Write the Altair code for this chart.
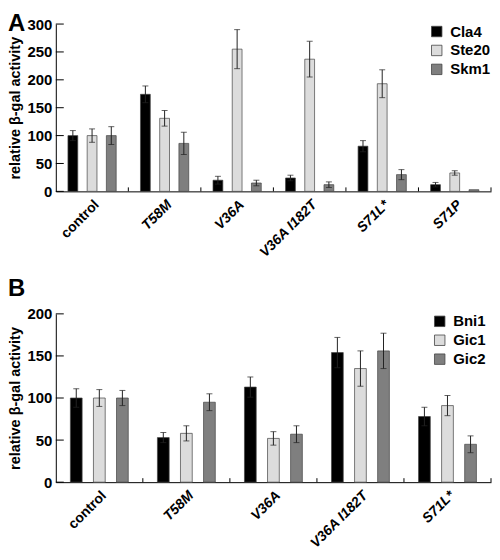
import altair as alt
import pandas as pd

FONT = "Liberation Sans"

# ---- Panel A data ----
groups_a = ["control", "T58M", "V36A", "V36A I182T", "S71L*", "S71P"]
series_a = ["Cla4", "Ste20", "Skm1"]
cla4 = [100, 174, 20, 24, 81, 12]
cla4_err = [9, 15, 7, 5, 10, 4]
ste20 = [100, 131, 255, 237, 193, 33]
ste20_err = [12, 14, 35, 32, 25, 4]
skm1 = [100, 86, 15, 12, 30, 3]
skm1_err = [16, 20, 5, 5, 9, 0]
ticks_a = [0, 50, 100, 150, 200, 250, 300]

# ---- Panel B data ----
groups_b = ["control", "T58M", "V36A", "V36A I182T", "S71L*"]
series_b = ["Bni1", "Gic1", "Gic2"]
bni1 = [100, 53, 113, 154, 78]
bni1_err = [11, 6, 12, 18, 11]
gic1 = [100, 58, 52, 135, 91]
gic1_err = [10, 9, 8, 21, 12]
gic2 = [100, 95, 57, 156, 45]
gic2_err = [9, 10, 10, 21, 10]
ticks_b = [0, 50, 100, 150, 200]

fills = ["#000000", "#dcdcdc", "#7f7f7f"]


def panel(groups, series, vals, errs, ticks, height, letter, lx, ly, toffset):
    rows = []
    for s, v, e in zip(series, vals, errs):
        for g, vv, ee in zip(groups, v, e):
            rows.append(dict(group=g, series=s, value=vv, err=ee, lo=vv - ee, hi=vv + ee))
    df = pd.DataFrame(rows)
    edf = df[df["err"] > 0]

    xscale = alt.Scale(paddingInner=0, paddingOuter=0)
    xo = alt.XOffset("series:N", sort=series,
                     scale=alt.Scale(paddingInner=0.49, paddingOuter=0.632))
    yscale = alt.Scale(domain=[0, ticks[-1]], nice=False, zero=True)

    x_axis = alt.Axis(
        title=None, labelAngle=-45, ticks=False, labelFontSize=14,
        labelFontWeight="bold", labelFont=FONT, labelColor="black",
        labelFontStyle={"condition": {"test": "datum.value == 'control'", "value": "normal"},
                        "value": "italic"},
        labelPadding=6, domainColor="black", domainWidth=1, grid=False,
    )
    y_axis = alt.Axis(
        values=ticks, ticks=False, grid=False, title="relative β-gal activity",
        titleFont=FONT, titleFontSize=14.5, titleFontWeight="bold", titleColor="black",
        titlePadding=3, labelFont=FONT, labelFontSize=15, labelFontWeight="bold",
        labelColor="black", labelPadding=4, minExtent=30, maxExtent=30,
        domainColor="black", domainWidth=1,
    )

    xe = alt.X("group:N", sort=groups, scale=xscale, axis=x_axis)
    bars = alt.Chart(df).mark_bar(stroke="#444", strokeWidth=0.7).encode(
        x=xe,
        xOffset=xo,
        y=alt.Y("value:Q", scale=yscale, axis=y_axis),
        color=alt.Color(
            "series:N", sort=series,
            scale=alt.Scale(domain=series, range=fills),
            legend=alt.Legend(
                orient="none", legendX=lx, legendY=ly, title=None,
                symbolType="square", symbolSize=110, symbolStrokeColor="#444",
                symbolStrokeWidth=0.8, symbolOpacity=1, labelFontSize=15,
                labelFontWeight="bold", labelFont=FONT, labelColor="black",
                labelOffset=6, rowPadding=3, padding=0,
            ),
        ),
    )
    err = alt.Chart(edf).mark_rule(color="#222", strokeWidth=1).encode(
        x=xe, xOffset=xo,
        y=alt.Y("lo:Q", scale=yscale, axis=y_axis), y2="hi:Q",
    )
    cap_hi = alt.Chart(edf).mark_tick(color="#222", thickness=1, size=6).encode(
        x=xe, xOffset=xo, y=alt.Y("hi:Q", scale=yscale, axis=y_axis),
    )
    cap_lo = alt.Chart(edf).mark_tick(color="#222", thickness=1, size=6).encode(
        x=xe, xOffset=xo, y=alt.Y("lo:Q", scale=yscale, axis=y_axis),
    )
    ytk = alt.Chart(pd.DataFrame({"t": ticks})).mark_rule(color="black", strokeWidth=1).encode(
        y=alt.Y("t:Q", scale=yscale, axis=y_axis), x=alt.value(0), x2=alt.value(8),
    )
    xtk = alt.Chart(pd.DataFrame({"group": groups})).mark_rule(color="black", strokeWidth=1).encode(
        x=alt.X("group:N", sort=groups, scale=xscale, axis=x_axis, bandPosition=1),
        y=alt.value(height - 4), y2=alt.value(height),
    )
    return alt.layer(bars, err, cap_hi, cap_lo, ytk, xtk).properties(
        width=437, height=height,
        title=alt.TitleParams(letter, anchor="start", frame="bounds", fontSize=24,
                              fontWeight="bold", font=FONT, color="black", offset=toffset),
    )


pa = panel(groups_a, series_a, [cla4, ste20, skm1], [cla4_err, ste20_err, skm1_err],
           ticks_a, 168, "A", 375, 0, -19)
pb = panel(groups_b, series_b, [bni1, gic1, gic2], [bni1_err, gic1_err, gic2_err],
           ticks_b, 169, "B", 378, 0, 6)

chart = alt.vconcat(pa, pb, spacing=17).resolve_scale(
    color="independent", x="independent", y="independent", xOffset="independent"
).resolve_legend(color="independent").properties(
    padding={"top": 3, "left": 0, "right": 0, "bottom": 0}
).configure_view(stroke=None)

chart.save("out.html", embed_options={"renderer": "svg", "actions": False})
